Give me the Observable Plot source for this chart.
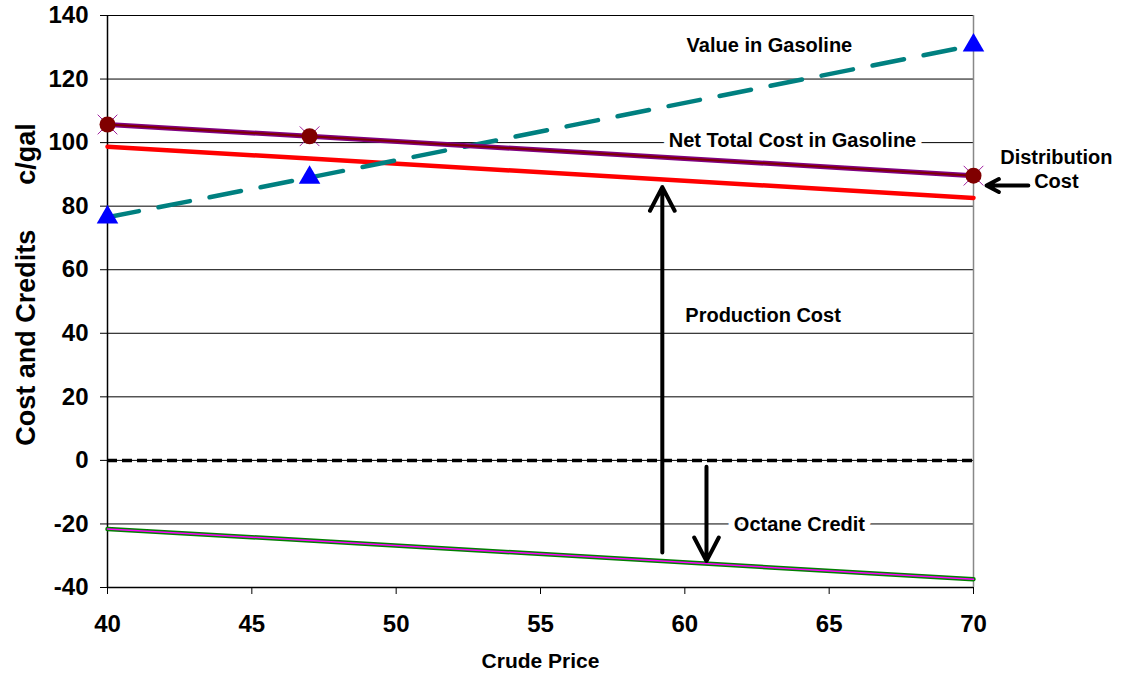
<!DOCTYPE html>
<html><head><meta charset="utf-8">
<script src="https://cdn.jsdelivr.net/npm/d3@7"></script>
<script src="https://cdn.jsdelivr.net/npm/@observablehq/plot@0.6"></script>
<style>body{margin:0;background:#fff}</style>
</head><body><div id="chart"></div>
<script>
// Data
const crude = [40, 47, 70];
const valueInGasoline = [76.5, 89, 130.6];
const netTotalCost = [105.7, 102, 89.6];
const productionCost = [98.7, 95, 82.6];
const octaneCredit = [-21.6, -25.2, -37.4];
const xTicks = [40, 45, 50, 55, 60, 65, 70];
const yTicks = [-40, -20, 0, 20, 40, 60, 80, 100, 120, 140];

const annotationText = ["Value in Gasoline", "Net Total Cost in Gasoline", "Production Cost", "Octane Credit", "Distribution", "Cost"];
const annotationX = [62.93, 63.73, 62.71, 63.97, 72.87, 72.87];
const annotationY = [130.6, 100.7, 45.6, -20.3, 95.4, 87.6];

const arrowX1 = [59.22, 60.75, 71.9];
const arrowY1 = [-29, -2, 86.5];
const arrowX2 = [59.22, 60.75, 70.45];
const arrowY2 = [86, -31.7, 86.5];

const series = (vals) => crude.map((x, i) => ({x, y: vals[i]}));
const annotations = annotationText.map((t, i) => ({text: t, x: annotationX[i], y: annotationY[i]}));
const arrows = arrowX1.map((x1, i) => ({x1, y1: arrowY1[i], x2: arrowX2[i], y2: arrowY2[i]}));

const font = "'Liberation Sans', Arial, sans-serif";

const chart = Plot.plot({
  width: 1122, height: 676,
  marginLeft: 107, marginRight: 149, marginTop: 15, marginBottom: 89,
  style: {fontFamily: font, fontWeight: "bold", background: "white", overflow: "visible", color: "black"},
  x: {domain: [40, 70]},
  y: {domain: [-40, 140]},
  marks: [
    Plot.ruleY(yTicks.filter(d => d > -40), {stroke: "#000", strokeWidth: 1}),
    Plot.ruleX([70], {stroke: "#888", strokeWidth: 1.5}),
    Plot.ruleX([40], {stroke: "#000", strokeWidth: 1.5}),
    Plot.ruleY([-40], {stroke: "#000", strokeWidth: 1.5}),
    Plot.axisY({ticks: yTicks, tickSize: 7, tickPadding: 12, fontSize: 24, fontWeight: "bold", label: null, tickFormat: d => String(d)}),
    Plot.axisX({ticks: xTicks, tickSize: 7, tickPadding: 20, fontSize: 24, fontWeight: "bold", label: null}),
    Plot.ruleY([0], {stroke: "#000", strokeWidth: 3.5, strokeDasharray: "10,5"}),
    // Octane credit
    Plot.line(series(octaneCredit), {x: "x", y: "y", stroke: "#008000", strokeWidth: 4.5}),
    Plot.line(series(octaneCredit), {x: "x", y: "y", stroke: "#FF00FF", strokeWidth: 1.5}),
    // Production cost
    Plot.line(series(productionCost), {x: "x", y: "y", stroke: "#FF0000", strokeWidth: 4.5}),
    // Value in gasoline
    Plot.line(series(valueInGasoline), {x: "x", y: "y", stroke: "#008080", strokeWidth: 4.5, strokeDasharray: "32,20"}),
    Plot.dot(series(valueInGasoline), {x: "x", y: "y", symbol: "triangle", r: 8, fill: "#0000FF"}),
    // Net total cost
    Plot.line(series(netTotalCost), {x: "x", y: "y", stroke: "#800080", strokeWidth: 5}),
    Plot.line(series(netTotalCost), {x: "x", y: "y", stroke: "#800000", strokeWidth: 2}),
    Plot.dot(series(netTotalCost), {x: "x", y: "y", symbol: "times", r: 9, stroke: "#A020A0", strokeWidth: 1}),
    Plot.dot(series(netTotalCost), {x: "x", y: "y", r: 8, fill: "#800000"}),
    // Annotations
    Plot.text(annotations, {x: "x", y: "y", text: "text", fontSize: 20, fontWeight: "bold", fill: "black", stroke: "white", strokeWidth: 12}),
    Plot.arrow(arrows, {x1: "x1", y1: "y1", x2: "x2", y2: "y2", stroke: "black", strokeWidth: 4, headLength: 10, headAngle: 55}),
    // Axis titles
    Plot.text(["Cost and Credits\u00a0\u00a0\u00a0\u00a0\u00a0\u00a0c/gal"], {frameAnchor: "left", textAnchor: "middle", lineAnchor: "middle", rotate: -90, dx: -81, dy: -17, fontSize: 27, fontWeight: "bold"}),
    Plot.text(["Crude Price"], {frameAnchor: "bottom", textAnchor: "middle", lineAnchor: "middle", dy: 74, fontSize: 21, fontWeight: "bold"})
  ]
});
document.getElementById("chart").append(chart);
</script>
</body></html>
